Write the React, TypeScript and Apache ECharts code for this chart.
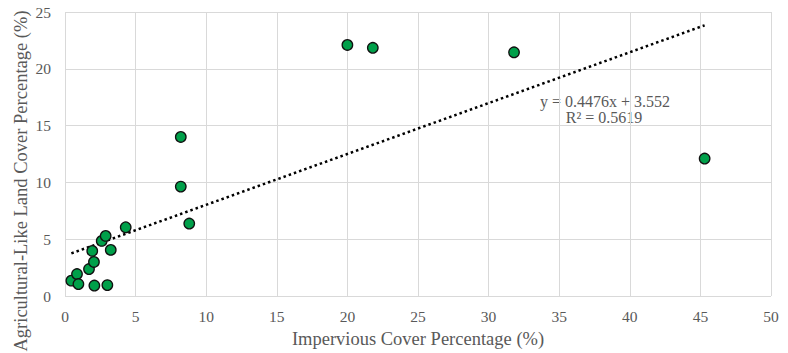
import React, { useEffect, useRef } from "react";
import * as echarts from "echarts";

const imperviousPct = [0.45, 0.85, 0.95, 1.7, 2.05, 1.93, 2.6, 2.88, 3.24, 2.08, 3.0, 4.3, 8.8, 8.2, 8.2, 20.0, 21.8, 31.8, 45.3];
const agriculturalPct = [1.35, 1.93, 1.05, 2.37, 3.0, 3.97, 4.85, 5.29, 4.06, 0.92, 0.96, 6.05, 6.38, 14.0, 9.63, 22.1, 21.85, 21.45, 12.1];
const trendSlope = 0.4476;
const trendIntercept = 3.552;
const equationText = "y = 0.4476x + 3.552";
const r2Text = "R² = 0.5619";
const xTitle = "Impervious Cover Percentage (%)";
const yTitle = "Agricultural-Like Land Cover Percentage (%)";

const FONT = "'Liberation Serif', 'DejaVu Serif', serif";
const GREY = "#595959";

export default function App() {
  const ref = useRef<HTMLDivElement>(null);
  useEffect(() => {
    const chart = echarts.init(ref.current!, null, { renderer: "svg" });
    const points = imperviousPct.map((x, i) => [x, agriculturalPct[i]]);
    const xMin = Math.min(...imperviousPct);
    const xMax = Math.max(...imperviousPct);
    const trend = [
      [xMin, trendSlope * xMin + trendIntercept],
      [xMax, trendSlope * xMax + trendIntercept],
    ];
    chart.setOption({
      animation: false,
      backgroundColor: "#ffffff",
      grid: { left: 65, right: 17, top: 12, bottom: 56, containLabel: false },
      xAxis: {
        type: "value",
        min: 0,
        max: 50,
        interval: 5,
        name: xTitle,
        nameLocation: "middle",
        nameGap: 33,
        nameTextStyle: { fontFamily: FONT, fontSize: 18.5, color: GREY },
        axisLine: { show: false },
        axisTick: { show: false },
        axisLabel: { fontFamily: FONT, fontSize: 15.5, color: GREY, margin: 12 },
        splitLine: { show: true, lineStyle: { color: "#d9d9d9", width: 1 } },
      },
      yAxis: {
        type: "value",
        min: 0,
        max: 25,
        interval: 5,
        axisLine: { show: false },
        axisTick: { show: false },
        axisLabel: { fontFamily: FONT, fontSize: 15.5, color: GREY, margin: 14 },
        splitLine: { show: true, lineStyle: { color: "#d9d9d9", width: 1 } },
      },
      series: [
        {
          type: "line",
          data: trend,
          symbol: "none",
          lineStyle: { color: "#000000", width: 2.5, type: [2.5, 3] },
          z: 1,
        },
        {
          type: "scatter",
          data: points,
          symbol: "circle",
          symbolSize: 10.5,
          itemStyle: { color: "#00a04a", borderColor: "#111111", borderWidth: 1.3, opacity: 1 },
          z: 3,
        },
      ],
      graphic: [
        {
          type: "text",
          x: 21,
          y: 181,
          rotation: Math.PI / 2,
          style: {
            text: yTitle,
            fontFamily: FONT,
            fontSize: 18.5,
            fill: GREY,
            align: "center",
            verticalAlign: "middle",
          },
        },
        {
          type: "text",
          x: 605,
          y: 101,
          style: {
            text: equationText,
            fontFamily: FONT,
            fontSize: 16,
            fill: GREY,
            align: "center",
            verticalAlign: "middle",
          },
        },
        {
          type: "text",
          x: 604,
          y: 117,
          style: {
            text: r2Text,
            fontFamily: FONT,
            fontSize: 16,
            fill: GREY,
            align: "center",
            verticalAlign: "middle",
          },
        },
      ],
    });
    return () => chart.dispose();
  }, []);
  return (
    <div
      ref={ref}
      style={{ position: "fixed", left: 0, top: 0, width: 788, height: 353 }}
    />
  );
}
